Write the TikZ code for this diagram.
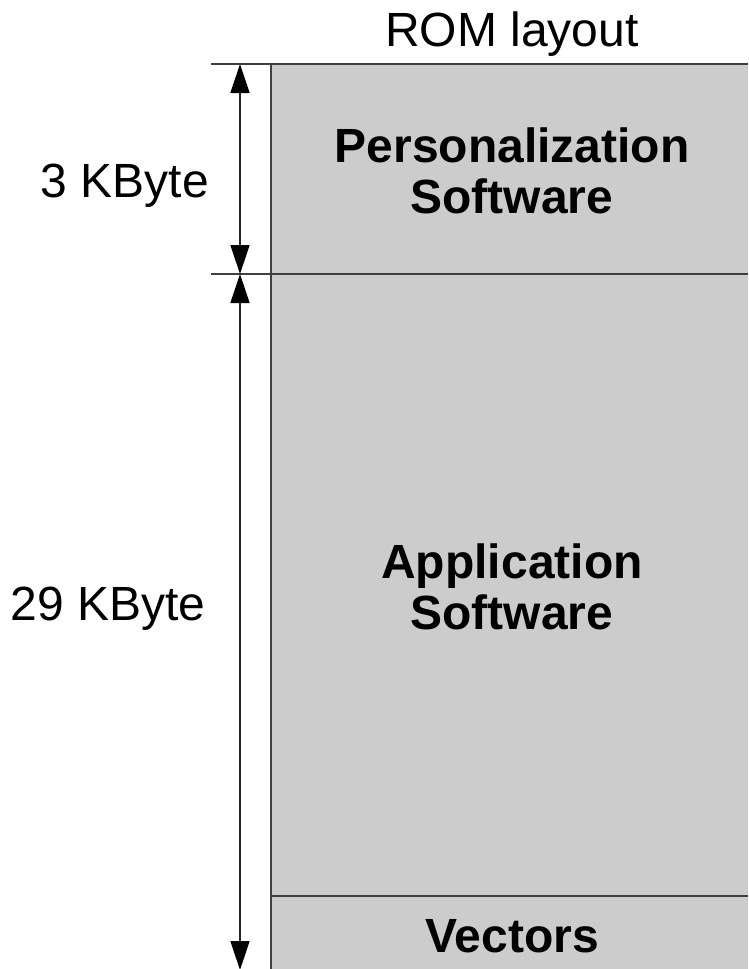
\documentclass[tikz,border=0pt]{standalone}
\usepackage{fontspec}
\setmainfont{Liberation Sans}
\usetikzlibrary{arrows.meta}
\begin{document}
\begin{tikzpicture}[x=1pt,y=-1pt,
  rule/.style={draw=black!75,line width=1.5pt},
  dim/.style={draw=black!85,line width=1.4pt,{Triangle[width=19pt,length=29pt,color=black]}-{Triangle[width=19pt,length=29pt,color=black]}},
  lbl/.style={font=\fontsize{48}{52}\selectfont,inner sep=0pt,anchor=base},
  blk/.style={font=\fontsize{48}{51}\selectfont\bfseries,inner sep=0pt,align=center}]
\useasboundingbox (0,0) rectangle (748,969);
\fill[fill={rgb,255:red,204;green,204;blue,204}] (271,64) rectangle (748,969);
\coordinate (tl) at (211,64);
\coordinate (tr) at (748,64);
\coordinate (ml) at (211,274);
\coordinate (mr) at (748,274);
\coordinate (vl) at (271,896);
\coordinate (vr) at (748,896);
\coordinate (cT) at (271,64);
\coordinate (cB) at (271,969);
\coordinate (a1) at (240,64);
\coordinate (a2) at (240,274);
\coordinate (a3) at (240,970);
\draw[rule] (tl) -- (tr);
\draw[rule] (ml) -- (mr);
\draw[rule] (vl) -- (vr);
\draw[rule] (cT) -- (cB);
\draw[dim] (a1) -- (a2);
\draw[dim] (a2) -- (a3);
\node[lbl] (title) at (512,46) {ROM layout};
\node[lbl] (k3) at (125,197) {3 KByte};
\node[lbl] (k29) at (108,620) {29 KByte};
\node[blk] (pers) at (512,171) {Personalization\\Software};
\node[blk] (app) at (512,587) {Application\\Software};
\node[blk,anchor=base] (vec) at (512,952) {Vectors};
\end{tikzpicture}
\end{document}
